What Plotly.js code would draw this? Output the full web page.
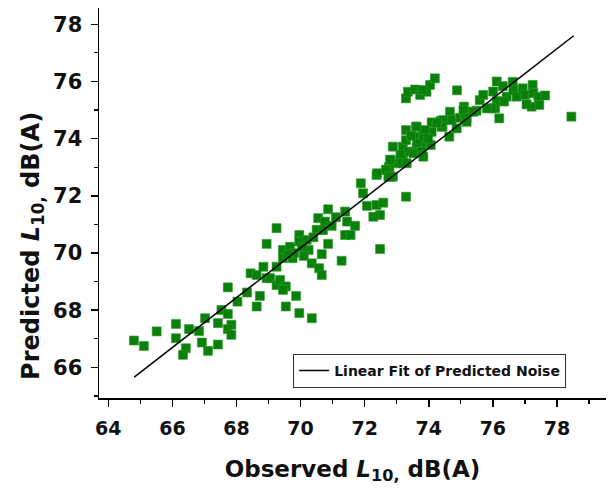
<!DOCTYPE html>
<html>
<head>
<meta charset="utf-8">
<script src="https://cdn.plot.ly/plotly-3.0.1.min.js"></script>
<style>
  html, body { margin: 0; padding: 0; background: #fff; }
  #chart { width: 608px; height: 500px; }
</style>
</head>
<body>
<div id="chart"></div>
<script>
// Observed vs predicted L10 levels, dB(A)
const observed = [
  64.80, 65.11, 65.51, 66.11, 66.11, 66.52, 66.42, 66.33, 66.83, 66.92,
  67.11, 67.02, 67.42, 67.42, 67.53, 67.73, 67.73, 67.84, 67.73, 67.84,
  68.03, 68.33, 68.44, 68.63, 68.63, 68.73, 68.84, 68.94, 68.94, 69.25,
  69.05, 69.25, 69.36, 69.54, 69.45, 69.54, 69.86, 69.96, 70.35, 69.25,
  69.45, 69.67, 69.45, 69.75, 69.96, 69.96, 70.19, 70.25, 70.35, 70.58,
  70.66, 70.66, 70.86, 70.50, 70.55, 70.86, 70.76, 70.97, 71.28, 71.39,
  71.45, 71.70, 71.39, 71.56, 72.37, 72.58, 72.48, 72.27, 72.48, 73.29,
  71.88, 71.95, 72.07, 72.37, 72.68, 72.82, 73.01, 72.76, 72.88, 72.88,
  73.13, 73.19, 73.29, 73.29, 73.60, 73.35, 73.20,
  73.29, 73.35, 73.57, 73.73, 73.93, 74.04, 74.19, 73.80, 74.88,
  72.39, 72.77, 73.62, 73.78, 73.83, 74.09, 74.09, 74.06, 74.37, 74.43,
  74.66, 74.71, 74.64, 74.87, 75.10, 74.97, 75.18,
  75.59, 76.12, 76.01, 76.07, 76.20, 76.31, 76.62, 76.43, 76.64, 76.74,
  76.93, 77.00, 77.24, 77.26, 77.42, 77.21, 77.45, 77.63, 77.05, 76.12,
  75.96, 78.45, 75.81, 75.49, 75.23, 75.08, 75.13, 75.39, 75.18, 74.45,
  74.40, 75.70,
  73.62, 73.83, 73.62, 72.79, 72.66, 72.74, 73.52, 73.64, 73.78, 73.88,
  73.98, 73.83, 73.12, 73.15, 73.31, 72.81,
  69.80, 70.05, 70.40, 70.10, 69.60, 70.70, 71.10, 73.45, 74.25, 76.35
];
const predicted = [
  66.94, 66.75, 67.26, 67.52, 67.02, 67.34, 66.67, 66.44, 67.27, 66.87,
  66.58, 67.72, 67.55, 66.80, 68.01, 67.87, 68.80, 67.49, 67.34, 67.14,
  68.30, 68.62, 69.29, 69.23, 68.13, 68.50, 69.52, 70.32, 69.12, 70.87,
  69.12, 68.88, 69.06, 68.83, 68.71, 68.13, 68.50, 67.90, 67.72, 69.52,
  70.11, 70.22, 69.82, 69.82, 70.63, 70.40, 70.46, 70.11, 69.64, 69.47,
  69.23, 69.96, 70.32, 70.81, 71.22, 71.53, 71.10, 70.95, 69.73, 71.45,
  71.10, 70.95, 70.63, 70.63, 71.68, 71.76, 71.33, 71.27, 70.14, 71.97,
  72.44, 72.09, 71.65, 72.73, 72.91, 73.26, 73.14, 73.01, 72.67, 73.72,
  73.43, 73.72, 73.95, 74.30, 74.42, 73.55, 73.26,
  75.41, 75.64, 75.72, 75.53, 75.64, 75.88, 76.11, 75.70, 75.69,
  72.79, 72.99, 74.07, 73.84, 74.19, 74.57, 74.24, 73.78, 74.62, 74.42,
  74.94, 74.65, 74.07, 74.36, 75.12, 74.73, 74.71,
  75.35, 76.00, 75.65, 75.06, 74.71, 75.84, 75.99, 75.47, 75.70, 75.47,
  75.76, 75.53, 75.88, 75.59, 75.47, 75.12, 75.18, 75.51, 75.20, 75.32,
  75.06, 74.77, 75.06, 74.98, 74.94, 75.00, 74.71, 74.94, 74.59, 74.65,
  74.42, 75.53,
  74.42, 74.01, 73.70, 73.26, 72.91, 72.67, 73.49, 73.84, 73.55, 74.30,
  74.01, 73.37, 73.43, 73.14, 73.14, 72.67,
  70.00, 70.20, 70.55, 69.90, 69.95, 70.80, 71.25, 74.10, 74.55, 75.30
];

// Linear fit of predicted on observed (end points of the fitted line)
const fitX = [64.81, 78.52];
const fitY = [65.66, 77.60];

const fitName = 'Linear Fit of Predicted Noise';
const xTitle = 'Observed <i>L</i><sub>10,</sub> dB(A)';
const yTitle = 'Predicted <i>L</i><sub>10,</sub> dB(A)';

const FONT = '"DejaVu Sans", Arial, sans-serif';

const traces = [
  {
    type: 'scatter',
    mode: 'markers',
    x: observed,
    y: predicted,
    showlegend: false,
    marker: {
      symbol: 'square',
      size: 9,
      color: '#0a800a',
      line: { width: 0.6, color: '#2e9a2e' }
    },
    hoverinfo: 'x+y'
  },
  {
    type: 'scatter',
    mode: 'lines',
    x: fitX,
    y: fitY,
    name: fitName,
    line: { color: '#000', width: 1.5 }
  }
];

const axisCommon = {
  showline: true,
  linecolor: '#000',
  linewidth: 1.5,
  mirror: false,
  showgrid: false,
  zeroline: false,
  ticks: 'outside',
  ticklen: 7,
  tickwidth: 1.5,
  tickcolor: '#000',
  dtick: 2,
  minor: { dtick: 1, ticks: 'outside', ticklen: 4, tickwidth: 1.2, tickcolor: '#000', showgrid: false }
};

const layout = {
  width: 608,
  height: 500,
  margin: { l: 99, r: 2, t: 8, b: 102 },
  paper_bgcolor: '#fff',
  plot_bgcolor: '#fff',
  font: { family: FONT, color: '#111' },
  xaxis: Object.assign({}, axisCommon, {
    range: [63.71, 79.53],
    tick0: 64,
    ticklabelstandoff: 6,
    tickfont: { family: FONT, size: 19, color: '#111', weight: 'bold' },
    title: { text: xTitle, font: { family: FONT, size: 23, weight: 'bold', color: '#111' }, standoff: 22 }
  }),
  yaxis: Object.assign({}, axisCommon, {
    range: [64.93, 78.57],
    tick0: 66,
    ticklabelstandoff: 4,
    tickfont: { family: FONT, size: 21, color: '#111', weight: 'bold' }
  }),
  // vertical axis title, sitting slightly below the middle of the axis
  annotations: [{
    text: yTitle,
    xref: 'paper',
    yref: 'paper',
    x: 0,
    xshift: -66,
    xanchor: 'center',
    y: 0.39,
    yanchor: 'middle',
    textangle: -90,
    showarrow: false,
    font: { family: FONT, size: 24, weight: 'bold', color: '#111' }
  }],
  legend: {
    x: 0.383,
    y: 0.113,
    xanchor: 'left',
    yanchor: 'top',
    bgcolor: '#fff',
    bordercolor: '#333',
    borderwidth: 1,
    font: { family: FONT, size: 14, weight: 'bold', color: '#111' },
    itemwidth: 30
  },
  showlegend: true
};

Plotly.newPlot('chart', traces, layout, { displayModeBar: false, staticPlot: true });
</script>
</body>
</html>
